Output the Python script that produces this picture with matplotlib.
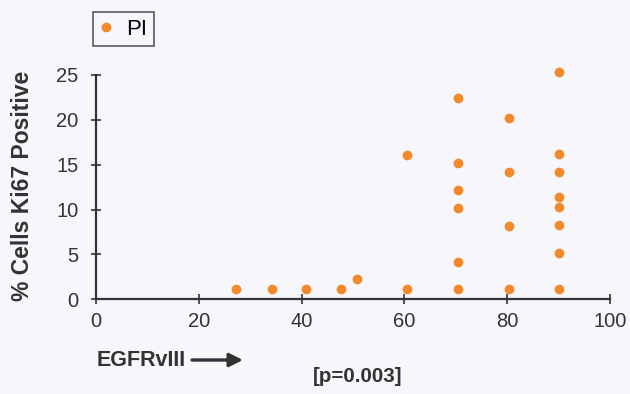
import matplotlib.pyplot as plt

# EGFRvIII (%) vs % cells Ki67 positive
egfr = [27.2, 34.2, 40.9, 47.6, 50.7, 60.5, 60.5,
        70.5, 70.5, 70.5, 70.5, 70.5, 70.5,
        80.4, 80.4, 80.4, 80.4,
        90.1, 90.1, 90.1, 90.1, 90.1, 90.1, 90.1, 90.1]
ki67 = [1.2, 1.2, 1.2, 1.2, 2.3, 1.2, 16.1,
        22.4, 15.2, 12.2, 10.2, 4.2, 1.2,
        20.2, 14.2, 8.2, 1.2,
        25.3, 16.2, 14.2, 11.4, 10.3, 8.3, 5.2, 1.2]

xticks = [0, 20, 40, 60, 80, 100]
yticks = [0, 5, 10, 15, 20, 25]

bg = '#f6f6fb'
dark = '#333333'
plt.rcParams['font.family'] = ['Liberation Sans', 'DejaVu Sans']

fig = plt.figure(figsize=(6.3, 3.94), dpi=100, facecolor=bg)
ax = fig.add_axes([96 / 630, 1 - 299.3 / 394, 514 / 630, 224.3 / 394])
ax.set_facecolor(bg)

ax.plot(egfr, ki67, 'o', color='#f28a2c', markersize=7, markeredgewidth=0,
        label='PI', clip_on=False)

ax.set_xlim(0, 100)
ax.set_ylim(0, 25)
ax.set_xticks(xticks)
ax.set_yticks(yticks)
ax.spines['top'].set_visible(False)
ax.spines['right'].set_visible(False)
for s in ['left', 'bottom']:
    ax.spines[s].set_color(dark)
    ax.spines[s].set_linewidth(1.6)
ax.tick_params(direction='inout', length=7, width=1.2, color=dark,
               labelsize=14.5, labelcolor=dark)
ax.tick_params(axis='y', pad=9)
ax.tick_params(axis='x', pad=6)

fig.text(23 / 630, 1 - 186 / 394, '% Cells Ki67 Positive', rotation=90,
         ha='center', va='center', fontsize=16.5, fontweight='bold', color=dark)
fig.text(97 / 630, 1 - 360 / 394, 'EGFRvIII', ha='left', va='center',
         fontsize=15.5, fontweight='bold', color=dark)
ax.annotate('', xy=(243 / 630, 1 - 360 / 394), xytext=(192 / 630, 1 - 360 / 394),
            xycoords='figure fraction', textcoords='figure fraction',
            arrowprops=dict(arrowstyle='-|>', color=dark, lw=2.4,
                            mutation_scale=20, shrinkA=0, shrinkB=0))
fig.text(313 / 630, 1 - 377 / 394, '[p=0.003]', ha='left', va='center',
         fontsize=14.8, fontweight='bold', color=dark)

leg = fig.legend(loc='upper left', bbox_to_anchor=(93 / 630, 1 - 12 / 394),
                 fontsize=16, frameon=True, fancybox=False, handlelength=0.6,
                 handletextpad=0.6, borderpad=0.3, borderaxespad=0)
leg.get_frame().set_edgecolor(dark)
leg.get_frame().set_linewidth(1.2)
leg.get_frame().set_facecolor(bg)

fig.savefig('out.png', dpi=100, facecolor=bg)
